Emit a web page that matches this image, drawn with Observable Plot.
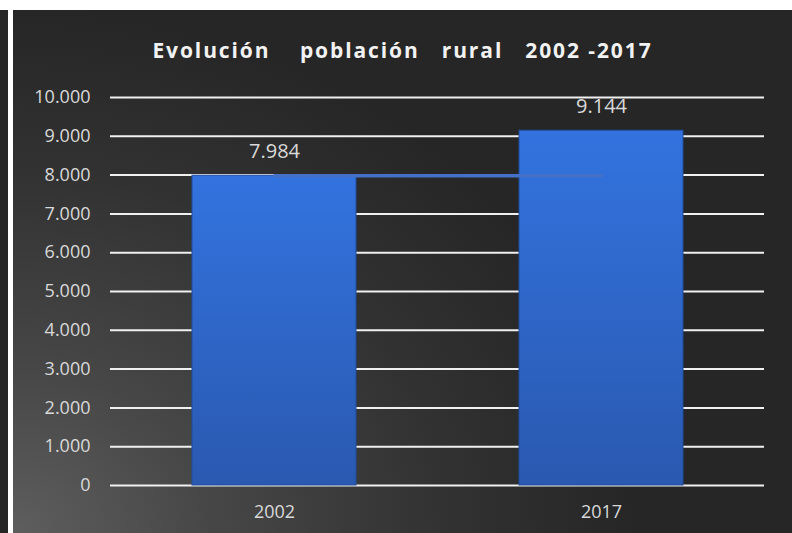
<!DOCTYPE html>
<html>
<head>
<meta charset="utf-8">
<script src="https://cdn.jsdelivr.net/npm/d3@7"></script>
<script src="https://cdn.jsdelivr.net/npm/@observablehq/plot@0.6"></script>
<style>
  html, body { margin: 0; padding: 0; background: #ffffff; }
  body { width: 792px; height: 533px; position: relative; overflow: hidden; }
  #strip { position: absolute; left: 0; top: 10px; width: 8px; height: 523px; background: #262626; }
  #panel {
    position: absolute; left: 13px; top: 10px; width: 779px; height: 523px;
    background: radial-gradient(ellipse 100% 125% at 0% 100%, #5e5e5e 0%, #474747 25%, #323232 55%, #262626 80%);
    overflow: hidden;
  }
  #title {
    position: absolute; left: 0; top: 27px; width: 100%; text-align: center;
    font-family: "Open Sans", sans-serif; font-weight: bold; font-size: 21px; line-height: 26px;
    letter-spacing: 1.9px; color: #f2f2f2; white-space: pre;
  }
  #chart { position: absolute; left: 0; top: 0; }
</style>
</head>
<body>
<div id="strip"></div>
<div id="panel">
  <div id="chart"></div>
  <div id="title">Evolución    población   rural   2002 -2017</div>
</div>
<script>
const years = ["2002", "2017"];
const values = [7984, 9144];
const trend = [7984, 7984];
const yTicks = [0, 1000, 2000, 3000, 4000, 5000, 6000, 7000, 8000, 9000, 10000];

const fmt = d => d3.format(",")(d).replace(/,/g, ".");
const data = years.map((y, i) => ({year: y, value: values[i], trend: trend[i]}));

const plot = Plot.plot({
  width: 779,
  height: 523,
  marginLeft: 97,
  marginRight: 28,
  marginTop: 87,
  marginBottom: 48,
  style: {background: "transparent", color: "#d9d9d9", fontFamily: "'Open Sans', sans-serif", fontSize: "18px", overflow: "visible"},
  x: {domain: years, paddingInner: 0.5, paddingOuter: 0.25, label: null},
  y: {domain: [0, 10000], label: null},
  marks: [
    Plot.ruleY(yTicks, {stroke: "#f0f0f0", strokeWidth: 2}),
    Plot.barY(data, {x: "year", y: "value", fill: "url(#barGrad)", stroke: "#1f4c9e", strokeWidth: 1}),
    Plot.line(data, {x: "year", y: "trend", stroke: "#4470c8", strokeWidth: 3.5}),
    Plot.text(data, {x: "year", y: "value", text: d => fmt(d.value), dy: -24, fill: "#d9d9d9", fontSize: 20}),
    Plot.axisY(yTicks, {tickSize: 0, tickPadding: 20, tickFormat: fmt, label: null, fill: "#d9d9d9", fontSize: 18}),
    Plot.axisX({tickSize: 0, tickPadding: 20, label: null, fill: "#d9d9d9", fontSize: 18})
  ]
});

const svg = d3.select(plot);
const defs = svg.insert("defs", ":first-child");
const g = defs.append("linearGradient").attr("id", "barGrad").attr("x1", 0).attr("y1", 0).attr("x2", 0).attr("y2", 1);
g.append("stop").attr("offset", "0%").attr("stop-color", "#3373df");
g.append("stop").attr("offset", "100%").attr("stop-color", "#2a59b0");

document.getElementById("chart").appendChild(plot);
</script>
</body>
</html>
